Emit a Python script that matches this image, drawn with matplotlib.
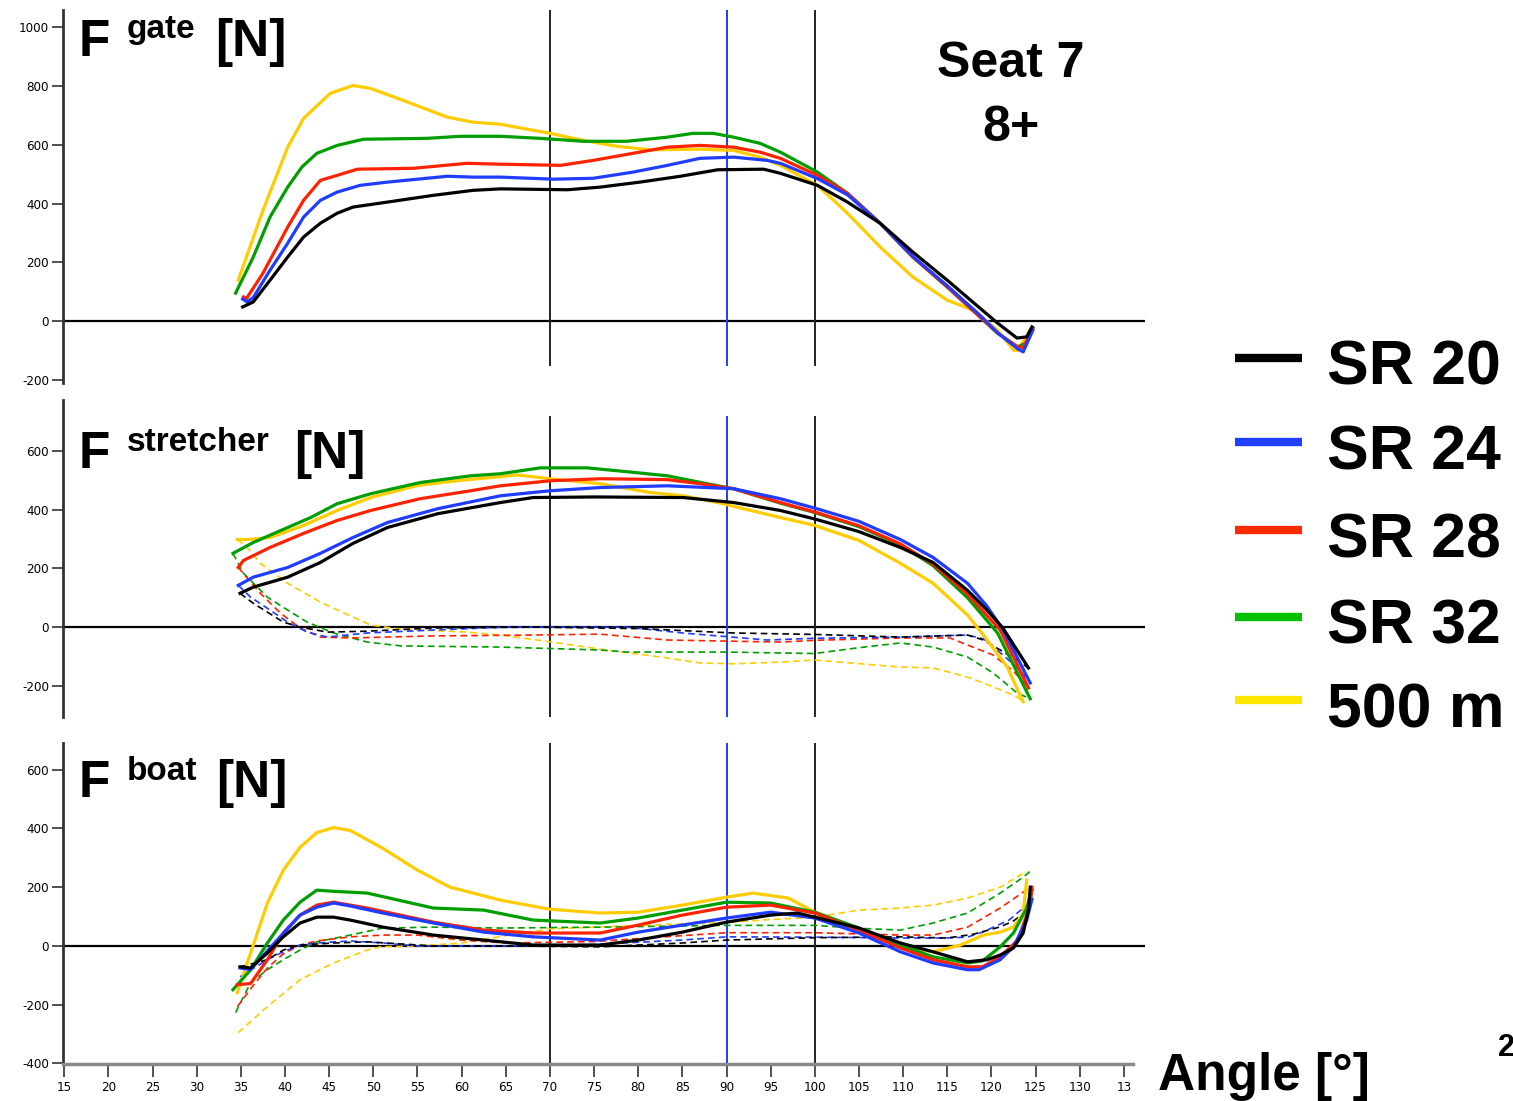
import matplotlib
matplotlib.use("Agg")
import matplotlib.pyplot as plt
from matplotlib.lines import Line2D

W, H = 1513, 1101

# ---- data: angle [deg] / force [N] ----
series = ["SR 20", "SR 24", "SR 28", "SR 32", "500 m"]

# F gate
gate_sr20_ang = [35.2, 36.4, 38.3, 40.3, 42.1, 44.0, 45.9, 47.7, 51.6, 56.8, 61.3, 64.4, 72.0, 75.7, 80.2, 84.8, 89.0, 94.2, 96.1, 100.3, 103.7, 107.4, 111.1, 115.0, 118.7, 120.7, 122.9, 124.0, 124.6]
gate_sr20 = [48, 65, 139, 218, 286, 333, 367, 388, 405, 428, 445, 450, 447, 456, 473, 493, 515, 517, 503, 462, 405, 333, 235, 139, 44, -7, -58, -54, -20]
gate_sr24_ang = [35.2, 35.7, 36.4, 38.3, 40.3, 42.1, 44.0, 45.9, 48.5, 51.6, 58.4, 61.3, 64.4, 70.4, 74.9, 79.4, 83.3, 87.0, 90.8, 94.6, 96.1, 100.3, 103.7, 107.4, 111.1, 115.0, 118.7, 120.7, 123.0, 123.6, 124.7]
gate_sr24 = [75, 65, 80, 173, 265, 354, 411, 439, 462, 473, 493, 490, 490, 483, 486, 507, 530, 554, 558, 547, 537, 485, 430, 333, 220, 120, 20, -40, -95, -105, -31]
gate_sr28_ang = [35.3, 35.6, 37.5, 40.3, 42.1, 44.0, 45.9, 48.2, 54.5, 60.6, 64.4, 71.2, 74.9, 79.4, 83.3, 87.0, 90.8, 93.8, 96.1, 100.3, 103.7, 107.4, 111.1, 115.0, 118.7, 120.7, 123.0, 123.6, 124.7]
gate_sr28 = [82, 75, 163, 320, 411, 479, 496, 517, 520, 537, 534, 530, 547, 571, 592, 598, 592, 575, 554, 496, 435, 333, 218, 116, 14, -41, -88, -90, -24]
gate_sr32_ang = [34.4, 36.4, 38.3, 40.3, 41.9, 43.6, 45.9, 48.9, 56.1, 59.8, 64.4, 68.9, 73.8, 78.7, 83.3, 86.2, 88.5, 90.8, 93.8, 96.1, 100.3, 103.7, 107.4, 111.1, 115.0, 118.7, 120.7, 122.9, 124.0, 124.7]
gate_sr32 = [95, 218, 354, 456, 524, 571, 598, 619, 622, 629, 629, 622, 612, 612, 626, 639, 639, 626, 605, 575, 507, 435, 333, 218, 116, 14, -41, -88, -75, -24]
gate_500_ang = [34.7, 37.5, 40.3, 42.1, 45.1, 47.7, 49.7, 53.4, 58.4, 61.3, 64.4, 70.0, 73.8, 77.6, 81.4, 87.0, 90.8, 93.8, 96.1, 100.3, 103.7, 107.4, 111.1, 115.0, 117.9, 120.7, 122.5, 123.0, 124.4]
gate_500 = [139, 377, 592, 690, 775, 802, 792, 751, 694, 677, 670, 639, 615, 595, 583, 585, 581, 558, 530, 462, 367, 252, 150, 71, 37, -31, -99, -100, -31]

# F stretcher (solid)
str_sr20_ang = [34.9, 36.4, 40.3, 44.0, 47.7, 51.6, 57.3, 64.4, 68.1, 75, 85.1, 90.8, 96.1, 100, 105, 109.7, 113.4, 117.3, 119.5, 121.3, 122.9, 124.2]
str_sr20 = [115, 136, 170, 220, 285, 339, 386, 424, 441, 443, 441, 424, 397, 368, 325, 271, 220, 125, 58, -3, -78, -139]
str_sr24_ang = [34.7, 36.4, 40.3, 44.0, 47.7, 51.6, 57.3, 64.4, 70.0, 75.7, 83.3, 90.8, 96.1, 100, 105, 109.7, 113.4, 117.3, 119.5, 121.3, 122.9, 124.4]
str_sr24 = [142, 170, 203, 251, 305, 356, 403, 447, 464, 475, 481, 471, 437, 405, 360, 298, 237, 149, 71, -8, -102, -190]
str_sr28_ang = [34.7, 35.3, 38.3, 42.1, 45.9, 49.7, 55.3, 61.0, 64.4, 70.0, 75.7, 83.3, 87.0, 90.8, 96.1, 100, 105, 109.7, 113.4, 117.3, 121.0, 124.2]
str_sr28 = [203, 227, 271, 319, 363, 397, 437, 464, 481, 498, 505, 502, 488, 471, 424, 392, 345, 283, 214, 112, -10, -207]
str_sr32_ang = [34.1, 36.4, 40.3, 42.9, 45.9, 49.7, 55.3, 61.0, 64.4, 68.9, 74.2, 78.7, 83.3, 87.8, 90.8, 96.1, 100, 105, 109.7, 113.4, 117.3, 120.7, 124.4]
str_sr32 = [251, 288, 339, 373, 420, 454, 492, 515, 522, 542, 542, 529, 515, 488, 471, 422, 390, 342, 280, 209, 100, -20, -244]
str_500_ang = [34.6, 35.7, 38.3, 42.1, 45.9, 49.7, 55, 60, 64.4, 66.3, 70.0, 75.7, 81.4, 85.1, 89.0, 96.1, 100, 105, 109.7, 113.4, 117.3, 119.1, 121.8, 123.6]
str_500 = [298, 298, 305, 346, 397, 441, 482, 500, 512, 518, 505, 488, 458, 447, 424, 373, 346, 295, 217, 149, 41, -27, -136, -254]

# F stretcher (dashed)
strd_sr20_ang = [34.9, 36.4, 38.0, 39.8, 41.7, 44.8, 49.3, 56.8, 68.1, 80, 90.8, 100, 109.7, 117.3, 119.1, 121.0, 122.8, 124.2]
strd_sr20 = [115, 81, 51, 17, 0, -17, -14, -3, 0, -5, -20, -25, -34, -27, -44, -78, -110, -139]
strd_sr24_ang = [34.7, 36.1, 38.0, 40.3, 42.5, 44.8, 49.3, 56.8, 65, 78.7, 85, 94.6, 100, 109.7, 117.3, 119.1, 121.3, 123.0, 124.4]
strd_sr24 = [142, 102, 64, 17, -17, -34, -20, -10, 0, 0, -20, -44, -38, -34, -27, -40, -95, -140, -190]
strd_sr28_ang = [34.7, 37.2, 39.5, 41.7, 44.0, 47.4, 56.8, 68.1, 75.7, 83.3, 96.1, 100, 109.7, 115.3, 117.9, 120.2, 122.5, 124.2]
strd_sr28 = [203, 115, 47, -3, -34, -37, -30, -27, -24, -44, -51, -45, -37, -37, -68, -95, -150, -207]
strd_sr32_ang = [34.1, 35.3, 38.0, 40.3, 42.5, 45.5, 49.3, 53.1, 64.4, 75.7, 78.7, 90, 100, 105, 109.7, 113.4, 117.3, 120.2, 122.9, 124.4]
strd_sr32 = [251, 183, 102, 58, 17, -20, -51, -64, -68, -78, -85, -85, -90, -70, -54, -68, -102, -156, -224, -244]
strd_500_ang = [34.6, 35.7, 37.2, 40.3, 44.0, 47.7, 49.7, 53.1, 60.6, 64.4, 70.0, 75.7, 83.3, 87.0, 90.8, 96.1, 100, 109.7, 113.4, 117.3, 120.2, 122.9, 123.6]
strd_500 = [298, 271, 217, 149, 85, 34, 7, -7, -17, -27, -50, -75, -105, -122, -125, -119, -112, -136, -139, -170, -203, -237, -254]

# F boat (solid)
boat_sr20_ang = [34.9, 36.1, 38.0, 39.8, 41.7, 43.6, 45.5, 47.4, 51.1, 56.8, 62.5, 68.1, 75.7, 80, 85, 90, 95, 98, 100, 105, 109.7, 113.4, 117.3, 119.5, 121.0, 122.5, 123.6, 124.2, 124.4]
boat_sr20 = [-71, -75, -24, 31, 78, 98, 98, 88, 64, 37, 20, 3, 3, 20, 47, 81, 105, 112, 98, 61, 10, -20, -54, -47, -31, -7, 44, 122, 200]
boat_sr24_ang = [34.9, 36.1, 39.1, 41.7, 43.6, 45.5, 47.4, 51.1, 56.8, 62.5, 68.1, 75.7, 80, 90, 95, 100, 105, 109.7, 113.4, 117.3, 118.6, 121.0, 122.5, 124.0, 124.6]
boat_sr24 = [-75, -80, 20, 105, 132, 146, 136, 112, 78, 47, 31, 20, 47, 95, 115, 95, 44, -20, -58, -81, -81, -47, -3, 88, 159]
boat_sr28_ang = [34.6, 36.1, 38.0, 39.8, 41.7, 43.6, 45.5, 49.3, 56.8, 62.5, 68.1, 75.7, 80, 85, 90, 95, 100, 105, 109.7, 113.4, 117.3, 119.0, 121.0, 123.0, 124.4, 124.6]
boat_sr28 = [-132, -128, -47, 44, 105, 139, 149, 129, 81, 54, 44, 44, 71, 105, 132, 139, 112, 54, -7, -47, -71, -71, -37, 20, 139, 200]
boat_sr32_ang = [34.1, 36.1, 38.0, 39.8, 41.7, 43.6, 45.5, 49.3, 56.8, 62.5, 68.1, 75.7, 80, 85, 90, 95, 100, 105, 109.7, 113.4, 117.3, 119.0, 121.0, 122.5, 124.0, 124.6]
boat_sr32 = [-149, -81, 10, 88, 149, 190, 186, 180, 129, 122, 88, 78, 95, 122, 149, 146, 115, 61, 3, -37, -58, -51, -3, 44, 129, 190]
boat_500_ang = [34.6, 36.1, 38.0, 39.8, 41.7, 43.6, 45.5, 47.4, 51.1, 55.0, 58.7, 64.4, 70.0, 75.7, 80, 85, 90, 93, 97, 100, 105, 109.7, 113.4, 116.5, 119.1, 121.0, 122.5, 123.6, 124.0]
boat_500 = [-159, -24, 146, 258, 336, 386, 403, 393, 332, 258, 200, 156, 125, 112, 115, 139, 166, 180, 163, 115, 54, -3, -20, 3, 37, 47, 64, 112, 224]

# F boat (dashed)
boatd_sr20_ang = [34.9, 38.0, 39.8, 41.7, 45.5, 49.3, 56.8, 65, 75.7, 85, 90, 100, 109.7, 115, 118, 121, 122.5, 124.2]
boatd_sr20 = [-71, -47, -14, 3, 10, 14, 0, 0, -3, 10, 20, 28, 31, 27, 40, 65, 85, 122]
boatd_sr24_ang = [34.9, 38.0, 39.8, 41.7, 43.6, 47.4, 51.1, 55, 65, 75, 85, 90, 100, 109.7, 115, 117.3, 119, 122, 124.0]
boatd_sr24 = [-105, -47, -20, 3, 10, 17, 10, 0, 0, 5, 20, 31, 30, 27, 27, 30, 47, 88, 139]
boatd_sr28_ang = [34.6, 36.1, 38.0, 39.8, 41.7, 43.6, 47.4, 51.1, 55, 60, 65, 75, 85, 90, 100, 109.7, 113.4, 117.3, 121.0, 123.6, 124.4]
boatd_sr28 = [-207, -146, -75, -27, 3, 17, 31, 37, 37, 20, 10, 15, 35, 45, 45, 37, 37, 64, 129, 183, 200]
boatd_sr32_ang = [34.4, 36.1, 38.0, 39.8, 41.7, 43.6, 47.4, 51.1, 56.8, 64.4, 75.7, 85, 90, 100, 105, 109.7, 113.4, 117.3, 121.0, 123.6, 124.4]
boatd_sr32 = [-227, -125, -81, -47, -14, 14, 37, 61, 64, 61, 64, 68, 70, 70, 60, 54, 78, 112, 180, 234, 254]
boatd_500_ang = [34.7, 38.0, 41.7, 45.5, 49.3, 50.8, 55, 60, 65, 70, 75, 80, 90, 95, 100, 105, 109.7, 113.4, 117.3, 121.0, 123.6, 124.0]
boatd_500 = [-295, -207, -115, -58, -14, -3, 0, 10, 35, 58, 64, 70, 80, 90, 98, 122, 129, 139, 163, 200, 247, 254]

x_ticks = list(range(15, 140, 5))
x_ticklabels = [str(t) for t in x_ticks[:-1]] + ["13"]
markers_deg = [70, 90, 100]

colors = {"SR 20": "#000000", "SR 24": "#1f3cff", "SR 28": "#ff2200",
          "SR 32": "#009e00", "500 m": "#ffcc00"}
legend_colors = {"SR 20": "#000000", "SR 24": "#2040ff", "SR 28": "#ff2a00",
                 "SR 32": "#00c000", "500 m": "#ffe800"}

gate = {"SR 20": (gate_sr20_ang, gate_sr20), "SR 24": (gate_sr24_ang, gate_sr24),
        "SR 28": (gate_sr28_ang, gate_sr28), "SR 32": (gate_sr32_ang, gate_sr32),
        "500 m": (gate_500_ang, gate_500)}
stretcher = {"SR 20": (str_sr20_ang, str_sr20), "SR 24": (str_sr24_ang, str_sr24),
             "SR 28": (str_sr28_ang, str_sr28), "SR 32": (str_sr32_ang, str_sr32),
             "500 m": (str_500_ang, str_500)}
stretcher_d = {"SR 20": (strd_sr20_ang, strd_sr20), "SR 24": (strd_sr24_ang, strd_sr24),
               "SR 28": (strd_sr28_ang, strd_sr28), "SR 32": (strd_sr32_ang, strd_sr32),
               "500 m": (strd_500_ang, strd_500)}
boat = {"SR 20": (boat_sr20_ang, boat_sr20), "SR 24": (boat_sr24_ang, boat_sr24),
        "SR 28": (boat_sr28_ang, boat_sr28), "SR 32": (boat_sr32_ang, boat_sr32),
        "500 m": (boat_500_ang, boat_500)}
boat_d = {"SR 20": (boatd_sr20_ang, boatd_sr20), "SR 24": (boatd_sr24_ang, boatd_sr24),
          "SR 28": (boatd_sr28_ang, boatd_sr28), "SR 32": (boatd_sr32_ang, boatd_sr32),
          "500 m": (boatd_500_ang, boatd_500)}

TICKFONT = ["DejaVu Sans"]
BOLD = ["Liberation Sans", "DejaVu Sans"]

fig = plt.figure(figsize=(W / 100, H / 100), dpi=100)
fig.patch.set_facecolor("white")


def px_axes(left, top, right, bottom):
    return fig.add_axes([left / W, 1 - bottom / H, (right - left) / W, (bottom - top) / H])


def style(ax, ylim, yticks, vspan=(0, 1)):
    ax.set_xlim(14.85, 137.4)
    ax.set_ylim(*ylim)
    for s in ["top", "right", "bottom"]:
        ax.spines[s].set_visible(False)
    ax.spines["left"].set_color("#333333")
    ax.spines["left"].set_linewidth(2)
    ax.set_yticks(yticks)
    ax.set_yticklabels([str(v) for v in yticks], family=TICKFONT, fontsize=9.5,
                       fontstretch="condensed")
    ax.tick_params(axis="y", direction="out", length=8, width=1.2, color="#333333", pad=2)
    ax.set_xticks([])
    ax.axhline(0, color="black", lw=1.6, zorder=1)
    for d in markers_deg:
        ax.axvline(d, ymin=vspan[0], ymax=vspan[1], color="#1f3cff" if d == 90 else "#222222",
                   lw=1.4, zorder=1)
    ax.patch.set_alpha(0)


def draw(ax, solid, dashed=None):
    if dashed:
        for name in series[::-1]:
            a, v = dashed[name]
            ax.plot(a, v, color=colors[name], lw=1.2, dashes=(4, 2.5), zorder=2)
    for name in series[::-1]:
        a, v = solid[name]
        ax.plot(a, v, color=colors[name], lw=2.3, zorder=3)


ax1 = px_axes(63, 10, 1145, 383)
style(ax1, (-211, 1059), [-200, 0, 200, 400, 600, 800, 1000], vspan=(0.048, 1))
draw(ax1, gate)

ax2 = px_axes(63, 400, 1145, 717)
style(ax2, (-306, 773), [-200, 0, 200, 400, 600], vspan=(0, 0.946))
draw(ax2, stretcher, stretcher_d)

ax3 = px_axes(63, 743, 1145, 1064)
style(ax3, (-402, 691), [-400, -200, 0, 200, 400, 600])
draw(ax3, boat, boat_d)
ax3.spines["bottom"].set_visible(True)
ax3.spines["bottom"].set_color("#888888")
ax3.spines["bottom"].set_linewidth(2.5)
ax3.spines["bottom"].set_bounds(14.85, 136.0)
ax3.set_xticks(x_ticks)
ax3.set_xticklabels(x_ticklabels, family=TICKFONT, fontsize=9.5, fontstretch="condensed")
ax3.tick_params(axis="x", direction="out", length=9, width=1.2, color="#333333", pad=3)


def ftext(x, y, s, size, **kw):
    fig.text(x / W, 1 - y / H, s, fontsize=size, fontweight="bold", family=BOLD,
             va="baseline", **kw)


# panel titles
ftext(79, 56, "F", 37)
ftext(127, 38, "gate", 24)
ftext(215, 56, "[N]", 37)
ftext(79, 468, "F", 37)
ftext(127, 451, "stretcher", 24)
ftext(294, 468, "[N]", 37)
ftext(79, 797, "F", 37)
ftext(127, 780, "boat", 24)
ftext(216, 797, "[N]", 37)

ftext(1011, 77, "Seat 7", 36, ha="center")
ftext(1011, 141, "8+", 36, ha="center")

# legend
leg_y = [358, 442, 530, 617, 700]
for name, y in zip(series, leg_y):
    fig.add_artist(Line2D([1235 / W, 1302 / W], [1 - y / H] * 2,
                          color=legend_colors[name], lw=6, solid_capstyle="butt"))
    ftext(1327, y + 27, name, 45)

ftext(1158, 1090, "Angle [°]", 37)
ftext(1498, 1056, "2", 22)

fig.savefig("out.png", dpi=100, facecolor="white")
